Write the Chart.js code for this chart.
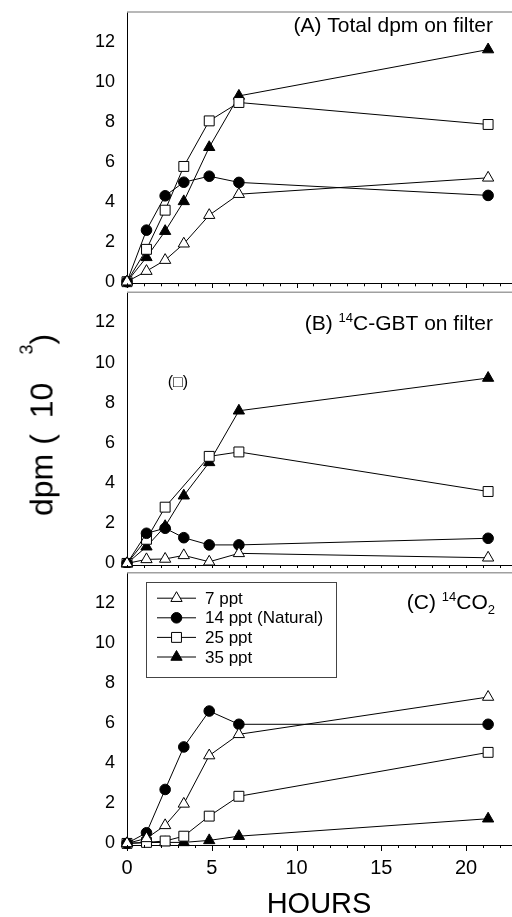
<!DOCTYPE html>
<html>
<head>
<meta charset="utf-8">
<script src="https://cdn.jsdelivr.net/npm/chart.js@4.4.1/dist/chart.umd.min.js"></script>
<style>
  html, body { margin: 0; padding: 0; background: #fff; }
  #wrap { position: relative; width: 512px; height: 917px; overflow: hidden;
          font-family: "Liberation Sans", Arial, sans-serif; }
  #wrap canvas { position: absolute; left: 0; }
  #ytitle { position: absolute; left: 44px; top: 425px; transform: translate(-50%, -50%) rotate(-90deg);
            font-size: 32px; line-height: 32px; white-space: pre; color: #000; }
  #ytitle .ten { margin-left: 16px; }
  #ytitle .exp { position: relative; top: -20px; font-size: 18px; margin-left: 28px; }
</style>
</head>
<body>
<div id="wrap">
  <canvas id="panelA"></canvas>
  <canvas id="panelB"></canvas>
  <canvas id="panelC"></canvas>
  <div id="ytitle">dpm (<span class="ten">10</span><span class="exp">3</span>)</div>
</div>
<script>
// sampling times (hours)
const hours = [0, 1.15, 2.25, 3.35, 4.85, 6.6, 21.3];
const seriesNames = ['7 ppt', '14 ppt (Natural)', '25 ppt', '35 ppt'];

// (A) total dpm on filter, x10^3
const totalDpm7  = [0, 0.53, 1.08, 1.9, 3.33, 4.38, 5.2];
const totalDpm14 = [0, 2.58, 4.3, 4.98, 5.28, 4.97, 4.32];
const totalDpm25 = [0, 1.62, 3.58, 5.77, 8.05, 8.97, 7.87];
const totalDpm35 = [0, 1.22, 2.53, 4.02, 6.73, 9.3, 11.62];

// (B) 14C-GBT on filter, x10^3 (25 ppt at 3.35 h is off the plot, shown as "(□)")
const gbt7  = [0, 0.2, 0.22, 0.4, 0.08, 0.5, 0.28];
const gbt14 = [0, 1.5, 1.75, 1.28, 0.92, 0.92, 1.25];
const gbt25 = [0, 1.2, 2.8, null, 5.33, 5.55, 3.58];
const gbt35 = [0, 0.83, 1.85, 3.37, 5.03, 7.6, 9.23];
const gbtNote = { x: 3.0, y: 9.0, text: '(\u25A1)' };

// (C) 14CO2, x10^3
const co2_7  = [0, 0.25, 0.9, 1.97, 4.38, 5.44, 7.3];
const co2_14 = [0, 0.53, 2.69, 4.81, 6.6, 5.94, 5.94];
const co2_25 = [0, 0.05, 0.12, 0.36, 1.36, 2.35, 4.54];
const co2_35 = [0, 0.04, 0.05, 0.05, 0.15, 0.36, 1.23];

const yTickValues = [0, 2, 4, 6, 8, 10, 12];
const xTickValues = [0, 5, 10, 15, 20];

const titleA = [{ text: '(A) Total dpm on filter' }];
const titleB = [{ text: '(B) ' }, { text: '14', sup: true }, { text: 'C-GBT on filter' }];
const titleC = [{ text: '(C) ' }, { text: '14', sup: true }, { text: 'CO' }, { text: '2', sub: true }];

const FONT = '"Liberation Sans", Arial, sans-serif';

// marker look of each salinity series
const markers = [
  { pointStyle: 'triangle', pointRadius: 6.5, pointBackgroundColor: '#fff' },
  { pointStyle: 'circle',   pointRadius: 5.3, pointBackgroundColor: '#000' },
  { pointStyle: 'rect',     pointRadius: 7,   pointBackgroundColor: '#fff' },
  { pointStyle: 'triangle', pointRadius: 6.5, pointBackgroundColor: '#000' }
];

const buildDatasets = (seriesList) => seriesList.map((values, i) => ({
  label: seriesNames[i],
  data: values.map((v, j) => ({ x: hours[j], y: v })),
  borderColor: '#000',
  borderWidth: 1,
  pointBorderColor: '#000',
  pointBorderWidth: 1,
  pointHoverRadius: markers[i].pointRadius,
  spanGaps: true,
  clip: false,
  ...markers[i]
}));

// grey top frame line + major / minor hour tick marks under the x axis
const frameAndTicks = {
  id: 'frameAndTicks',
  afterDraw(chart) {
    const { ctx, chartArea, scales } = chart;
    ctx.save();
    ctx.strokeStyle = '#a0a0a0';
    ctx.lineWidth = 1.5;
    ctx.beginPath();
    ctx.moveTo(chartArea.left, chartArea.top);
    ctx.lineTo(chartArea.right + 1, chartArea.top);
    ctx.stroke();
    ctx.strokeStyle = '#000';
    ctx.lineWidth = 1;
    for (let h = 0; h <= Math.floor(scales.x.max); h++) {
      const px = Math.round(scales.x.getPixelForValue(h)) + 0.5;
      const len = h % 5 === 0 ? 6 : 3;
      ctx.beginPath();
      ctx.moveTo(px, chartArea.bottom);
      ctx.lineTo(px, chartArea.bottom + len);
      ctx.stroke();
    }
    ctx.restore();
  }
};

// panel caption in the top right corner, with super/subscripts
const panelTitle = {
  id: 'panelTitle',
  afterDraw(chart, args, opts) {
    if (!opts.runs) return;
    const { ctx, chartArea } = chart;
    const big = '21px ' + FONT, small = '13px ' + FONT;
    ctx.save();
    let total = 0;
    opts.runs.forEach(r => { ctx.font = (r.sup || r.sub) ? small : big; total += ctx.measureText(r.text).width; });
    let x = chartArea.right - opts.right - total;
    const base = chartArea.top + opts.baseline;
    ctx.fillStyle = '#000';
    ctx.textBaseline = 'alphabetic';
    opts.runs.forEach(r => {
      ctx.font = (r.sup || r.sub) ? small : big;
      const y = r.sup ? base - 8 : r.sub ? base + 5 : base;
      ctx.fillText(r.text, x, y);
      x += ctx.measureText(r.text).width;
    });
    if (opts.note) {
      ctx.font = '16px ' + FONT;
      ctx.textAlign = 'center';
      ctx.textBaseline = 'middle';
      ctx.fillText(opts.note.text, chart.scales.x.getPixelForValue(opts.note.x), chart.scales.y.getPixelForValue(opts.note.y));
    }
    ctx.restore();
  }
};

// boxed legend drawn inside panel C
const boxLegend = {
  id: 'boxLegend',
  afterDraw(chart, args, opts) {
    if (!opts.show) return;
    const { ctx, chartArea } = chart;
    const x0 = chartArea.left + 19, y0 = chartArea.top + 9.5;
    ctx.save();
    ctx.strokeStyle = '#444';
    ctx.lineWidth = 1;
    ctx.strokeRect(Math.round(x0) + 0.5, Math.round(y0) + 0.5, 190, 95);
    ctx.font = '17px ' + FONT;
    ctx.textBaseline = 'middle';
    chart.data.datasets.forEach((ds, i) => {
      const y = y0 + 16 + i * 19.6;
      ctx.strokeStyle = '#000';
      ctx.beginPath();
      ctx.moveTo(x0 + 11, y);
      ctx.lineTo(x0 + 50, y);
      ctx.stroke();
      ctx.fillStyle = ds.pointBackgroundColor;
      Chart.helpers.drawPoint(ctx, { pointStyle: ds.pointStyle, radius: ds.pointRadius, borderWidth: 1, rotation: 0 }, x0 + 30.5, y);
      ctx.fillStyle = '#000';
      ctx.fillText(ds.label, x0 + 59, y + 1);
    });
    ctx.restore();
  }
};

function makePanel(id, seriesList, box, extra) {
  const canvas = document.getElementById(id);
  canvas.style.top = box.top + 'px';
  canvas.width = 512;
  canvas.height = box.height;
  canvas.style.width = '512px';
  canvas.style.height = box.height + 'px';
  const showLabels = !!extra.labels;
  const noPad = (s) => { s.paddingTop = 0; s.paddingBottom = 0; s.paddingLeft = 0; s.paddingRight = 0; };

  return new Chart(canvas.getContext('2d'), {
    type: 'line',
    data: { datasets: buildDatasets(seriesList) },
    options: {
      responsive: false,
      animation: false,
      events: [],
      layout: { autoPadding: false, padding: { top: box.plotTop - box.top, left: 0, right: 1, bottom: 0 } },
      plugins: {
        legend: { display: false },
        tooltip: { enabled: false },
        panelTitle: extra.title,
        boxLegend: { show: !!extra.legend }
      },
      scales: {
        x: {
          type: 'linear',
          min: 0,
          max: 22.65,
          afterFit: (s) => { s.height = box.top + box.height - box.plotBottom; noPad(s); },
          afterBuildTicks: (s) => { s.ticks = xTickValues.map(v => ({ value: v })); },
          grid: { display: false, drawTicks: true, tickLength: 6 },
          border: { display: true, color: '#000', width: 1 },
          ticks: { display: showLabels, padding: 5, color: '#000', font: { family: FONT, size: 20 } },
          title: {
            display: showLabels,
            text: 'HOURS',
            color: '#000',
            font: { family: FONT, size: 29, lineHeight: 0.8 },
            padding: { top: 0, bottom: 0 }
          }
        },
        y: {
          min: -0.08,
          max: 13.5,
          afterFit: (s) => { s.width = 127; noPad(s); },
          afterBuildTicks: (s) => { s.ticks = yTickValues.map(v => ({ value: v })); },
          grid: { display: false, drawTicks: false },
          border: { display: true, color: '#000', width: 1 },
          ticks: { padding: 12, color: '#000', font: { family: FONT, size: 18 } }
        }
      }
    },
    plugins: [frameAndTicks, panelTitle, boxLegend]
  });
}

makePanel('panelA', [totalDpm7, totalDpm14, totalDpm25, totalDpm35],
  { top: 0, height: 288, plotTop: 12, plotBottom: 283.3 },
  { title: { runs: titleA, right: 18, baseline: 20 } });

makePanel('panelB', [gbt7, gbt14, gbt25, gbt35],
  { top: 288, height: 280, plotTop: 292.3, plotBottom: 565 },
  { title: { runs: titleB, right: 18, baseline: 38, note: gbtNote } });

makePanel('panelC', [co2_7, co2_14, co2_25, co2_35],
  { top: 568, height: 349, plotTop: 572.7, plotBottom: 845 },
  { title: { runs: titleC, right: 16, baseline: 36.5 }, legend: true, labels: true });
</script>
</body>
</html>
